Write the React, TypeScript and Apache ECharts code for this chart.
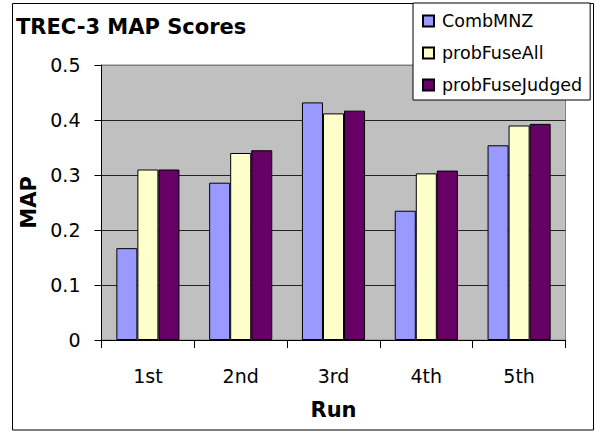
import React, { useEffect, useRef } from "react";
import * as echarts from "echarts";

const categories = ["1st", "2nd", "3rd", "4th", "5th"];
const seriesNames = ["CombMNZ", "probFuseAll", "probFuseJudged"];
const combMNZ = [0.167, 0.286, 0.432, 0.235, 0.354];
const probFuseAll = [0.31, 0.34, 0.412, 0.303, 0.39];
const probFuseJudged = [0.31, 0.345, 0.417, 0.308, 0.393];
const yTicks = [0, 0.1, 0.2, 0.3, 0.4, 0.5];
const seriesColors = ["#9999FF", "#FFFFCC", "#660066"];

const FONT = "DejaVu Sans";

export default function App() {
  const ref = useRef<HTMLDivElement>(null);
  useEffect(() => {
    const chart = echarts.init(ref.current!, undefined, { renderer: "svg" });
    const values = [combMNZ, probFuseAll, probFuseJudged];
    chart.setOption({
      animation: false,
      backgroundColor: "#ffffff",
      textStyle: { fontFamily: FONT },
      graphic: [
        {
          type: "rect",
          shape: { x: 12.5, y: 3.5, width: 581, height: 426.5 },
          style: { fill: "none", stroke: "#000000", lineWidth: 1 },
          z: 0,
        },
        {
          type: "text",
          x: 16,
          y: 27,
          style: {
            text: "TREC-3 MAP Scores",
            fontFamily: FONT,
            fontWeight: "bold",
            fontSize: 21,
            fill: "#000000",
            verticalAlign: "middle",
            align: "left",
          },
        },
      ],
      legend: {
        orient: "vertical",
        left: 413,
        top: 3,
        padding: [8, 8, 5, 9],
        itemWidth: 11,
        itemHeight: 11,
        itemGap: 12,
        icon: "rect",
        borderColor: "#000000",
        borderWidth: 1,
        backgroundColor: "#ffffff",
        textStyle: {
          fontFamily: FONT,
          fontSize: 17.5,
          color: "#000000",
          lineHeight: 20,
          padding: [0, 0, 0, 3],
        },
        data: seriesNames,
      },
      grid: {
        left: 101.5,
        top: 65,
        width: 464,
        height: 275,
        show: true,
        backgroundColor: "#C0C0C0",
        borderColor: "#808080",
        borderWidth: 1,
      },
      xAxis: {
        type: "category",
        data: categories,
        name: "Run",
        nameLocation: "middle",
        nameGap: 59,
        nameTextStyle: { fontFamily: FONT, fontWeight: "bold", fontSize: 21, color: "#000" },
        axisLine: { show: true, lineStyle: { color: "#000", width: 1 } },
        axisTick: { show: true, length: 8, lineStyle: { color: "#000" } },
        axisLabel: { fontFamily: FONT, fontSize: 19, color: "#000", margin: 26 },
      },
      yAxis: {
        type: "value",
        min: yTicks[0],
        max: yTicks[yTicks.length - 1],
        interval: 0.1,
        name: "MAP",
        nameLocation: "middle",
        nameGap: 56,
        nameTextStyle: { fontFamily: FONT, fontWeight: "bold", fontSize: 21, color: "#000" },
        axisLine: { show: true, lineStyle: { color: "#000", width: 1 } },
        axisTick: { show: true, length: 7, lineStyle: { color: "#000" } },
        axisLabel: {
          fontFamily: FONT,
          fontSize: 19,
          color: "#000",
          margin: 21,
          formatter: (v: number) => (v === 0 ? "0" : v.toFixed(1)),
        },
        splitLine: {
          show: true,
          lineStyle: {
            color: ["#000", "#222", "#222", "#222", "#222", "#808080"],
            width: 1,
          },
        },
      },
      series: seriesNames.map((name, i) => ({
        name,
        type: "bar",
        data: values[i],
        barGap: "0%",
        barCategoryGap: "32%",
        itemStyle: { color: seriesColors[i], borderColor: "#000", borderWidth: 1 },
      })),
    });
    return () => chart.dispose();
  }, []);
  return (
    <div
      ref={ref}
      style={{ position: "fixed", left: 0, top: 0, width: 595, height: 433, background: "#fff" }}
    />
  );
}
